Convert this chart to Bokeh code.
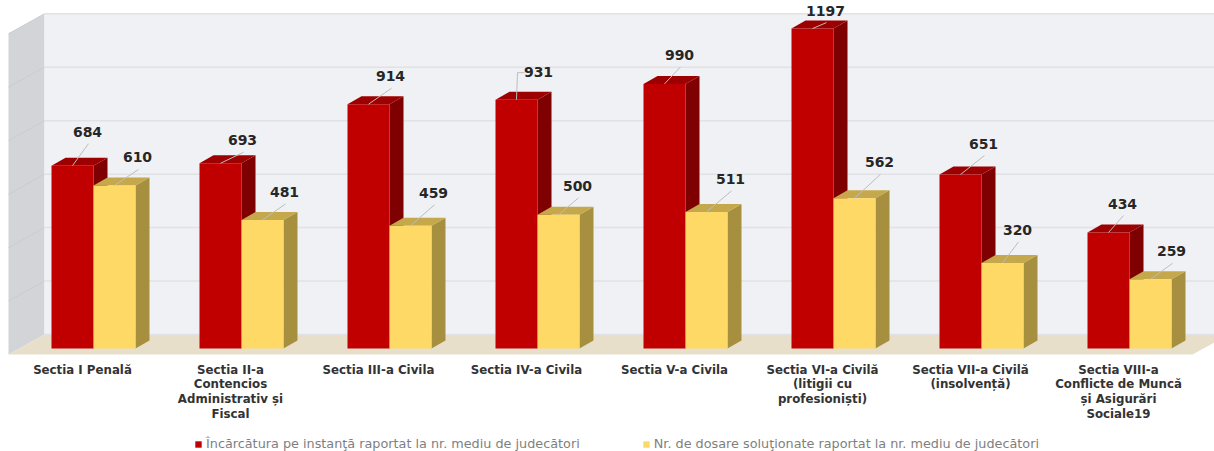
from bokeh.plotting import figure
from bokeh.embed import file_html
from bokeh.resources import INLINE
from bokeh.models import Range1d, Legend, LegendItem
from bokeh.core.properties import value

categories = ["Sectia I Penală", "Sectia II-a\nContencios\nAdministrativ și\nFiscal", "Sectia III-a Civila",
              "Sectia IV-a Civila", "Sectia V-a Civila", "Sectia VI-a Civilă\n(litigii cu\nprofesioniști)",
              "Sectia VII-a Civilă\n(insolvență)", "Sectia VIII-a\nConflicte de Muncă\nși Asigurări\nSociale19"]
incarcatura = [684, 693, 914, 931, 990, 1197, 651, 434]
solutionate = [610, 481, 459, 500, 511, 562, 320, 259]
name_a = "Încărcătura pe instanţă raportat la nr. mediu de judecători"
name_b = "Nr. de dosare soluţionate raportat la nr. mediu de judecători"
grid_values = [0, 200, 400, 600, 800, 1000, 1200]

# label placement relative to top of the bar (px)
off_a = [(15, 34), (22, 23), (22, 28), (22, 28), (15, 29), (13, 18), (23, 31), (14, 29)]
off_b = [(23, 28), (22, 28), (23, 33), (19, 29), (24, 33), (25, 36), (15, 33), (21, 28)]

W, H = 1214, 451
PX_X = 148.0
PX_Y = 0.26728
FRONT_Y = -6 / PX_Y                 # front edge of the floor
YMIN, YMAX = -103 / PX_Y, 348 / PX_Y
XMIN, XMAX = -93 / PX_X, 1121 / PX_X
XWALL = -85 / PX_X
LABEL_SHIFT = 11 / PX_X
px = lambda v: v / PX_X
py = lambda v: v / PX_Y

p = figure(width=W, height=H, output_backend="svg", toolbar_location=None,
           x_range=Range1d(XMIN, XMAX), y_range=Range1d(YMIN, YMAX),
           x_axis_location=None, y_axis_location=None,
           min_border_left=0, min_border_right=0, min_border_top=0, min_border_bottom=0)
p.grid.visible = False
p.outline_line_color = None
p.background_fill_color = "white"
p.border_fill_color = "white"

# walls
bx, by = px(36), py(20)         # full depth of the room
x_back = XWALL + bx
y_back0 = py(14)
top_val = 1200 + y_back0
p.patch([XWALL, x_back, x_back, XWALL], [FRONT_Y, y_back0, top_val, top_val - by], fill_color="#D2D4D7", line_color=None)
p.patch([x_back, XMAX, XMAX, x_back], [y_back0, y_back0, top_val, top_val], fill_color="#F0F1F4", line_color=None)
p.patch([XWALL, x_back, XMAX, XMAX, XWALL + (1184 / PX_X)],
        [FRONT_Y, y_back0, y_back0, FRONT_Y + py(12), FRONT_Y], fill_color="#E8DFCB", line_color=None)
for g in grid_values:
    p.line([x_back, XMAX], [g + y_back0] * 2, line_color="#E1E2E5", line_width=1.5)
    if g:
        p.line([XWALL, x_back], [g + y_back0 - by, g + y_back0], line_color="#CACCCF", line_width=1)

bw = 42 / PX_X
dx, dy = px(14), py(8)

def bar(left, val, front, side, top):
    p.patch([left + bw, left + bw + dx, left + bw + dx, left + bw], [0, dy, val + dy, val], fill_color=side, line_color=None)
    p.patch([left, left + dx, left + bw + dx, left + bw], [val, val + dy, val + dy, val], fill_color=top, line_color=None)
    return p.quad(left=[left], right=[left + bw], bottom=[0], top=[val], fill_color=front, line_color=None)

r_a = r_b = None
for i in range(len(categories)):
    r_a = bar(i - bw, incarcatura[i], "#C00000", "#7F0000", "#9C0000")
    r_b = bar(i, solutionate[i], "#FFD966", "#A69040", "#C4A84B")

# leader lines and value labels
lx, ly, tx, ty, tt = [], [], [], [], []
for i in range(len(categories)):
    for val, cx, (ox, oy) in ((incarcatura[i], i - bw / 2, off_a[i]), (solutionate[i], i + bw / 2, off_b[i])):
        if val == 931:
            lx.append([cx, cx + px(1), cx + px(8)])
            ly.append([val, val + py(oy - 1), val + py(oy - 1)])
        else:
            lx.append([cx, cx + px(ox + 1)])
            ly.append([val, val + py(oy - 12)])
        tx.append(cx + px(ox)); ty.append(val + py(oy)); tt.append(str(val))
p.multi_line(lx, ly, line_color="#BDBDBD", line_width=1)
p.text(tx, ty, text=tt, text_font=value("DejaVu Sans"), text_font_style="bold", text_font_size="14px",
       text_color="#262626", text_align="center", text_baseline="middle")

# category labels
p.text([i - LABEL_SHIFT for i in range(len(categories))], [py(-14)] * len(categories), text=categories,
       text_font=value("DejaVu Sans"), text_font_style="bold", text_font_size="11.8px",
       text_color="#333333", text_align="center", text_baseline="top", text_line_height=1.07)

legend = Legend(items=[LegendItem(label=name_a, renderers=[r_a]), LegendItem(label=name_b, renderers=[r_b])],
                orientation="horizontal", location=(194, 0), spacing=62,
                glyph_width=8, glyph_height=8, label_standoff=4,
                label_text_font="DejaVu Sans", label_text_font_size="12.8px", label_text_color="#7F7F7F",
                border_line_color=None, background_fill_alpha=0, margin=0, padding=0)
p.add_layout(legend, "center")

open("out.html", "w").write(file_html(p, INLINE))
